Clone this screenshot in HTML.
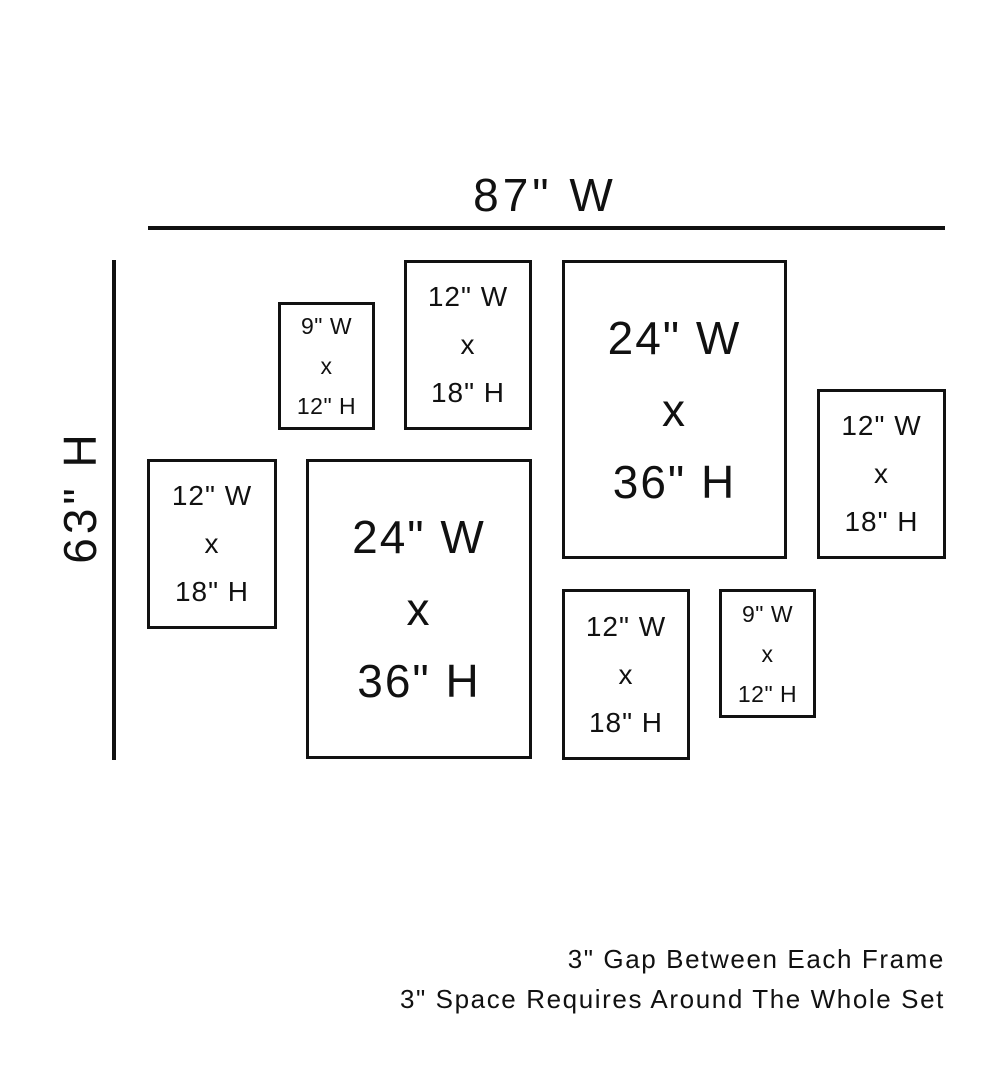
<!DOCTYPE html>
<html><head><style>
body{margin:0;width:1000px;height:1081px;background:#fff;position:relative;overflow:hidden;font-family:"Liberation Sans",sans-serif;color:#111}
.f{position:absolute;box-sizing:border-box;border:3.5px solid #111;display:flex;flex-direction:column;justify-content:center;align-items:center;text-align:center;font-weight:normal;white-space:nowrap}
.s{font-size:23px;line-height:40px;letter-spacing:0.5px}
.m{font-size:28px;line-height:48px;letter-spacing:1px}
.l{font-size:46px;line-height:72px;letter-spacing:2px}
.t{position:absolute;white-space:nowrap}
</style></head><body>
<div style="position:absolute;left:148px;top:226px;width:797px;height:4px;background:#111"></div>
<div style="position:absolute;left:112px;top:260px;width:4px;height:500px;background:#111"></div>
<div class="t" style="left:395px;top:168px;width:300px;text-align:center;font-size:46px;letter-spacing:4px">87" W</div>
<div class="t" style="left:-70px;top:470px;width:300px;text-align:center;font-size:46px;letter-spacing:4px;transform:rotate(-90deg)">63" H</div>

<div class="f s" style="left:278px;top:302px;width:97px;height:128px">9" W<br>x<br>12" H</div>
<div class="f m" style="left:404px;top:260px;width:128px;height:170px">12" W<br>x<br>18" H</div>
<div class="f l" style="left:562px;top:260px;width:225px;height:299px">24" W<br>x<br>36" H</div>
<div class="f m" style="left:817px;top:389px;width:129px;height:170px">12" W<br>x<br>18" H</div>
<div class="f m" style="left:147px;top:459px;width:130px;height:170px">12" W<br>x<br>18" H</div>
<div class="f l" style="left:306px;top:459px;width:226px;height:300px">24" W<br>x<br>36" H</div>
<div class="f m" style="left:562px;top:589px;width:128px;height:171px">12" W<br>x<br>18" H</div>
<div class="f s" style="left:719px;top:589px;width:97px;height:129px">9" W<br>x<br>12" H</div>

<div class="t" style="right:55px;top:944px;font-size:26px;letter-spacing:1.6px;text-align:right">3" Gap Between Each Frame</div>
<div class="t" style="right:55px;top:984px;font-size:26px;letter-spacing:1.6px;text-align:right">3" Space Requires Around The Whole Set</div>
</body></html>
